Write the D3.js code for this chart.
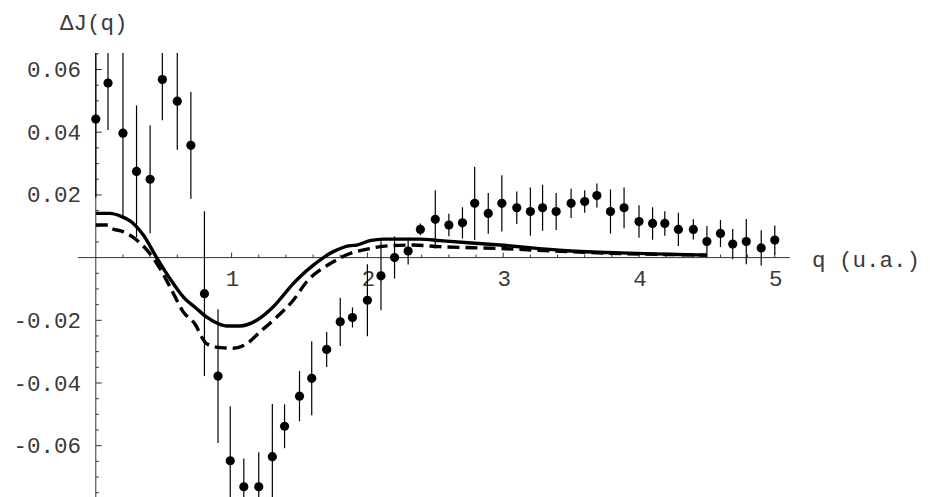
<!DOCTYPE html>
<html>
<head>
<meta charset="utf-8">
<script src="https://cdn.jsdelivr.net/npm/d3@7"></script>
<style>
  html, body { margin: 0; padding: 0; background: #fff; }
  svg { display: block; }
  text { font-family: "Liberation Mono", "Courier New", monospace; fill: #3a3a3a; }
</style>
</head>
<body>
<svg id="chart" width="930" height="497"></svg>
<script>
// ---- data ----
const qPoints = [0.00,0.09,0.20,0.30,0.40,0.49,0.60,0.70,0.80,0.90,
                 0.99,1.09,1.20,1.30,1.39,1.50,1.59,1.70,1.80,1.89,
                 2.00,2.10,2.20,2.30,2.39,2.50,2.60,2.70,2.79,2.89,
                 2.99,3.10,3.20,3.29,3.39,3.50,3.60,3.69,3.79,3.89,
                 4.00,4.10,4.19,4.29,4.40,4.50,4.60,4.69,4.79,4.90,5.00];
const dJPoints = [0.0442,0.0557,0.0397,0.0275,0.0250,0.0568,0.0499,0.0358,-0.0115,-0.0378,
                  -0.0648,-0.0731,-0.0731,-0.0635,-0.0538,-0.0442,-0.0385,-0.0293,-0.0205,-0.0191,
                  -0.0136,-0.0058,0.0000,0.0021,0.0090,0.0122,0.0104,0.0111,0.0173,0.0141,
                  0.0173,0.0159,0.0147,0.0159,0.0147,0.0173,0.0179,0.0198,0.0147,0.0159,
                  0.0115,0.0109,0.0109,0.0090,0.0090,0.0051,0.0077,0.0043,0.0051,0.0031,0.0056];
const dJErrors = [0.0250,0.0150,0.0267,0.0210,0.0172,0.0130,0.0155,0.0170,0.0263,0.0213,
                  0.0174,0.0090,0.0110,0.0168,0.0070,0.0080,0.0118,0.0056,0.0077,0.0032,
                  0.0115,0.0110,0.0067,0.0043,0.0019,0.0093,0.0036,0.0050,0.0117,0.0065,
                  0.0090,0.0052,0.0077,0.0073,0.0059,0.0047,0.0036,0.0038,0.0070,0.0065,
                  0.0052,0.0052,0.0039,0.0053,0.0032,0.0050,0.0043,0.0048,0.0072,0.0056,0.0046];

const qSolid  = [0.00,0.105,0.178,0.276,0.35,0.448,0.546,0.644,0.743,0.817,0.915,0.964,1.062,1.185,1.307,1.454,1.504,1.602,1.749,1.872,1.921,2.019,2.117,2.387,2.535,2.976,3.468,3.86,4.2,4.498];
const dJSolid = [0.0141,0.0141,0.0133,0.0109,0.0072,0.0000,-0.0067,-0.0125,-0.0163,-0.0190,-0.0213,-0.0218,-0.0218,-0.0200,-0.0157,-0.0083,-0.0061,-0.0024,0.0019,0.0038,0.0040,0.0054,0.0059,0.0059,0.0054,0.0040,0.0022,0.0015,0.0011,0.0008];

const qDashed  = [0.00,0.09,0.117,0.20,0.301,0.387,0.473,0.546,0.644,0.743,0.767,0.817,0.915,1.013,1.111,1.209,1.332,1.454,1.553,1.726,1.872,2.019,2.166,2.338,2.535,2.976,3.468,3.86,4.498];
const dJDashed = [0.0104,0.0104,0.0093,0.0083,0.0056,0.0019,-0.0035,-0.0093,-0.0173,-0.0221,-0.0243,-0.0275,-0.0287,-0.0289,-0.0275,-0.0237,-0.0190,-0.0136,-0.0077,-0.0019,0.0013,0.0029,0.0038,0.0040,0.0035,0.0029,0.0019,0.0013,0.0008];

const xMajorTicks = [1,2,3,4,5];
const xTickLabels = ["1","2","3","4","5"];
const yMajorTicks = [-0.06,-0.04,-0.02,0.02,0.04,0.06];
const yTickLabels = ["-0.06","-0.04","-0.02","0.02","0.04","0.06"];
const xAxisTitle = "q (u.a.)";
const yAxisTitle = "\u0394J(q)";

// ---- scales ----
const svg = d3.select("#chart");
const x = d3.scaleLinear().domain([0, 5]).range([95.8, 774.8]);
const y = d3.scaleLinear().domain([0, 0.06]).range([257.6, 257.6 - 0.06 * 3135]);
const yTop = 0.06526, yBot = -0.0765;
const xLeft = -0.132, xRight = 5.11;
const fs = "22.5px";

svg.append("defs").append("clipPath").attr("id", "clip")
  .append("rect").attr("x", 0).attr("y", y(yTop)).attr("width", 930).attr("height", y(yBot) - y(yTop));

const axisColor = "#333";

// ---- x axis ----
const xAxisG = svg.append("g").attr("transform", `translate(0,${y(0)})`);
xAxisG.append("line").attr("x1", x(xLeft)).attr("x2", x(xRight)).attr("stroke", axisColor).attr("stroke-width", 1);
const xMinor = d3.range(0.2, 5.1, 0.2).filter(v => Math.abs(v - Math.round(v)) > 1e-6);
xAxisG.selectAll(".xminor").data(xMinor).enter().append("line")
  .attr("x1", d => x(d)).attr("x2", d => x(d)).attr("y1", 0).attr("y2", -3)
  .attr("stroke", axisColor).attr("stroke-width", 1);
xAxisG.selectAll(".xmajor").data(xMajorTicks).enter().append("line")
  .attr("x1", d => x(d)).attr("x2", d => x(d)).attr("y1", 0).attr("y2", -5)
  .attr("stroke", axisColor).attr("stroke-width", 1);
xAxisG.selectAll(".xlab").data(xMajorTicks).enter().append("text")
  .attr("x", d => x(d) + 1).attr("y", 28).attr("text-anchor", "middle")
  .style("font-size", fs).text((d, i) => xTickLabels[i]);
svg.append("text").attr("x", 812).attr("y", y(0) + 9).style("font-size", fs).text(xAxisTitle);

// ---- y axis ----
const yAxisG = svg.append("g").attr("transform", `translate(${x(0)},0)`);
yAxisG.append("line").attr("y1", y(yTop)).attr("y2", y(yBot)).attr("stroke", axisColor).attr("stroke-width", 1);
const yMinor = d3.range(-0.075, 0.0651, 0.005).map(v => Math.round(v * 1000) / 1000)
  .filter(v => Math.abs(v / 0.02 - Math.round(v / 0.02)) > 1e-6);
yAxisG.selectAll(".yminor").data(yMinor).enter().append("line")
  .attr("x1", 0).attr("x2", 3).attr("y1", d => y(d)).attr("y2", d => y(d))
  .attr("stroke", axisColor).attr("stroke-width", 1);
yAxisG.selectAll(".ymajor").data(yMajorTicks).enter().append("line")
  .attr("x1", 0).attr("x2", 6).attr("y1", d => y(d)).attr("y2", d => y(d))
  .attr("stroke", axisColor).attr("stroke-width", 1);
svg.selectAll(".ylab").data(yMajorTicks).enter().append("text")
  .attr("x", 81).attr("y", d => y(d) + 7.5).attr("text-anchor", "end")
  .style("font-size", fs).text((d, i) => yTickLabels[i]);
svg.append("text").attr("x", 60).attr("y", 30).style("font-size", fs).text(yAxisTitle);

// ---- curves ----
const plot = svg.append("g").attr("clip-path", "url(#clip)");
const line = d3.line().x(d => x(d[0])).y(d => y(d[1])).curve(d3.curveMonotoneX);
plot.append("path").datum(qSolid.map((q, i) => [q, dJSolid[i]]))
  .attr("d", line).attr("fill", "none").attr("stroke", "#000").attr("stroke-width", 3.4);
plot.append("path").datum(qDashed.map((q, i) => [q, dJDashed[i]]))
  .attr("d", line).attr("fill", "none").attr("stroke", "#000").attr("stroke-width", 3.4)
  .attr("stroke-dasharray", "12,6");

// ---- error bars and points ----
const pts = qPoints.map((q, i) => ({ q, v: dJPoints[i], e: dJErrors[i] }));
plot.selectAll(".err").data(pts).enter().append("line")
  .attr("x1", d => x(d.q)).attr("x2", d => x(d.q))
  .attr("y1", d => y(d.v + d.e)).attr("y2", d => y(d.v - d.e))
  .attr("stroke", "#000").attr("stroke-width", 1.2);
plot.selectAll(".pt").data(pts).enter().append("circle")
  .attr("cx", d => x(d.q)).attr("cy", d => y(d.v)).attr("r", 4.6).attr("fill", "#000");
</script>
</body>
</html>
